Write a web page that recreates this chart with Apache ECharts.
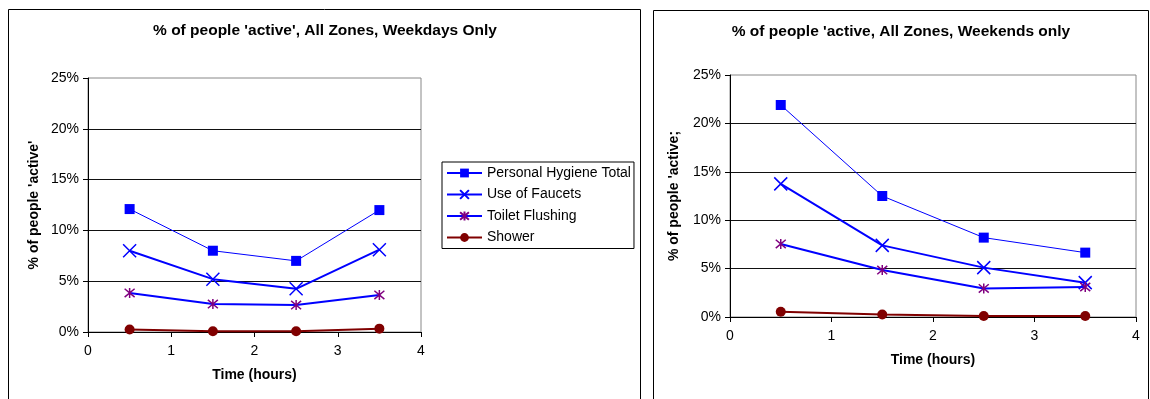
<!DOCTYPE html>
<html>
<head>
<meta charset="utf-8">
<script src="https://cdn.jsdelivr.net/npm/echarts@6/dist/echarts.min.js"></script>
<style>
  html, body { margin: 0; padding: 0; background: #fff; }
  #chart { width: 1150px; height: 399px; }
</style>
</head>
<body>
<div id="chart"></div>
<script>
// Sample times (hours) at which activity was measured
const hours = [0.5, 1.5, 2.5, 3.5];
const seriesNames = ['Personal Hygiene Total', 'Use of Faucets', 'Toilet Flushing', 'Shower'];

// Weekdays: % of people active
const weekdayHygiene = [12.1, 8.0, 7.0, 12.0];
const weekdayFaucets = [8.0, 5.2, 4.25, 8.1];
const weekdayToilet  = [3.85, 2.75, 2.65, 3.65];
const weekdayShower  = [0.25, 0.07, 0.07, 0.33];

// Weekends: % of people active
const weekendHygiene = [21.9, 12.5, 8.2, 6.65];
const weekendFaucets = [13.75, 7.4, 5.1, 3.55];
const weekendToilet  = [7.55, 4.85, 2.95, 3.1];
const weekendShower  = [0.55, 0.25, 0.1, 0.1];

// Axis ticks
const xTicks = [0, 1, 2, 3, 4];
const yTicks = [0, 5, 10, 15, 20, 25];

const titles = [
  "% of people 'active', All Zones, Weekdays Only",
  "% of people 'active, All Zones, Weekends only"
];
const yNames = ["% of people 'active'", "% of people 'active;"];
const xName = 'Time (hours)';

const FONT = '"Liberation Sans", Arial, sans-serif';
const X_MARK = 'path://M0,0L10,10M10,0L0,10';
const STAR_MARK = 'path://M0,0L10,10M10,0L0,10M5,-1L5,11';

const styles = [
  { symbol: 'rect', size: 10, line: { color: '#0000ff', width: 1 }, item: { color: '#0000ff', borderColor: '#0000ff', borderWidth: 0 } },
  { symbol: X_MARK, size: 13, line: { color: '#0000ff', width: 2 }, item: { color: 'rgba(0,0,0,0)', borderColor: '#0000ff', borderWidth: 1.5 } },
  { symbol: STAR_MARK, size: 10, line: { color: '#0000ff', width: 2 }, item: { color: 'rgba(0,0,0,0)', borderColor: '#800080', borderWidth: 1.5 } },
  { symbol: 'circle', size: 10, line: { color: '#800000', width: 2 }, item: { color: '#800000', borderColor: '#800000', borderWidth: 0 } }
];

function pairs(values) {
  return hours.map((h, i) => [h, values[i]]);
}

function buildSeries(gridIndex, groups) {
  return groups.map((vals, k) => ({
    name: seriesNames[k],
    type: 'line',
    xAxisIndex: gridIndex,
    yAxisIndex: gridIndex,
    data: pairs(vals),
    symbol: styles[k].symbol,
    symbolSize: styles[k].size,
    showAllSymbol: true,
    lineStyle: styles[k].line,
    itemStyle: styles[k].item,
    emphasis: { disabled: true },
    z: 2 + k
  }));
}

function xAxis(gridIndex, gap) {
  return {
    type: 'value', gridIndex,
    min: xTicks[0], max: xTicks[xTicks.length - 1], interval: xTicks[1] - xTicks[0],
    name: xName, nameLocation: 'middle', nameGap: gap,
    nameTextStyle: { fontFamily: FONT, fontSize: 14, fontWeight: 'bold', color: '#000' },
    axisLine: { show: true, lineStyle: { color: '#000', width: 1 } },
    axisTick: { show: true, inside: false, length: 5, lineStyle: { color: '#000' } },
    axisLabel: { fontFamily: FONT, fontSize: 14, color: '#000', margin: 12 },
    splitLine: { show: false }
  };
}

function yAxis(gridIndex, name, gap) {
  return {
    type: 'value', gridIndex,
    min: yTicks[0], max: yTicks[yTicks.length - 1], interval: yTicks[1] - yTicks[0],
    name, nameLocation: 'middle', nameGap: gap, nameRotate: 90,
    nameTextStyle: { fontFamily: FONT, fontSize: 14, fontWeight: 'bold', color: '#000' },
    axisLine: { show: true, lineStyle: { color: '#000', width: 1 } },
    axisTick: { show: true, inside: false, length: 5, lineStyle: { color: '#000' } },
    axisLabel: { fontFamily: FONT, fontSize: 14, color: '#000', margin: 9, formatter: '{value}%' },
    splitLine: { show: true, showMinLine: false, showMaxLine: false, lineStyle: { color: '#111', width: 1 } }
  };
}

const chart = echarts.init(document.getElementById('chart'), null, { renderer: 'canvas' });

chart.setOption({
  animation: false,
  backgroundColor: '#fff',
  grid: [
    { left: 88, top: 78, width: 333, height: 254, show: true, borderColor: '#888', borderWidth: 1, backgroundColor: '#fff' },
    { left: 730, top: 75, width: 406, height: 242, show: true, borderColor: '#888', borderWidth: 1, backgroundColor: '#fff' }
  ],
  xAxis: [xAxis(0, 36), xAxis(1, 36)],
  yAxis: [yAxis(0, yNames[0], 47), yAxis(1, yNames[1], 49)],
  legend: {
    data: seriesNames,
    orient: 'vertical',
    left: 442, top: 162,
    padding: [4, 3, 4, 4],
    itemWidth: 35, itemHeight: 11, itemGap: 7.5,
    borderColor: '#000', borderWidth: 1,
    backgroundColor: '#fff',
    selectedMode: false,
    textStyle: { fontFamily: FONT, fontSize: 14, color: '#000' }
  },
  graphic: [
    { type: 'rect', silent: true, z: -10, shape: { x: 8.5, y: 9.5, width: 632, height: 420 }, style: { fill: 'none', stroke: '#000', lineWidth: 1 } },
    { type: 'rect', silent: true, z: -10, shape: { x: 653.5, y: 10.5, width: 495, height: 420 }, style: { fill: 'none', stroke: '#000', lineWidth: 1 } },
    { type: 'text', silent: true, x: 325, y: 31, style: { text: titles[0], font: 'bold 15.5px ' + FONT, fill: '#000', align: 'center', verticalAlign: 'middle', textAlign: 'center', textVerticalAlign: 'middle' } },
    { type: 'text', silent: true, x: 901, y: 32, style: { text: titles[1], font: 'bold 15.5px ' + FONT, fill: '#000', align: 'center', verticalAlign: 'middle', textAlign: 'center', textVerticalAlign: 'middle' } }
  ],
  series: [
    ...buildSeries(0, [weekdayHygiene, weekdayFaucets, weekdayToilet, weekdayShower]),
    ...buildSeries(1, [weekendHygiene, weekendFaucets, weekendToilet, weekendShower])
  ]
});
</script>
</body>
</html>
